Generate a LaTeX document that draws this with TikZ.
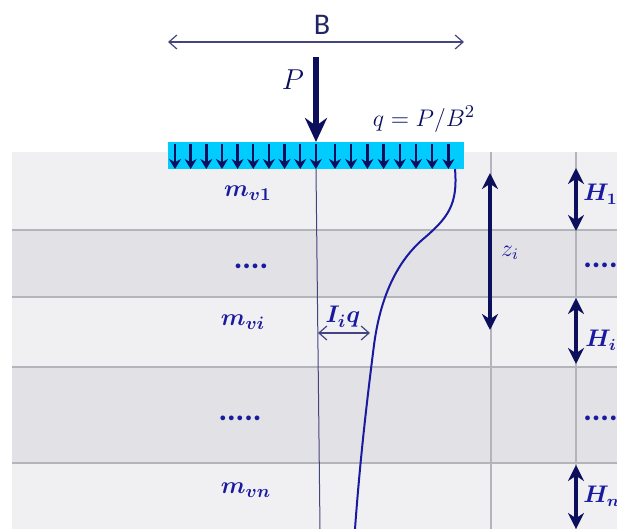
\documentclass[tikz,border=0pt]{standalone}
\usepackage{amsmath,bm}
\usepackage{fontspec}
\setmainfont{Carlito}
\usetikzlibrary{arrows.meta,positioning}
\definecolor{soilA}{HTML}{F0F0F3}
\definecolor{soilB}{HTML}{E2E1E6}
\definecolor{gridgray}{HTML}{B4B4BC}
\definecolor{footcyan}{HTML}{00CCFF}
\definecolor{navy}{HTML}{0B0F5C}
\definecolor{labblue}{HTML}{1A1AA0}
\definecolor{dimline}{HTML}{44447E}
\newcommand{\mlab}[1]{\boldsymbol{m_{#1}}}

\begin{document}
\begin{tikzpicture}[x=0.5pt,y=-0.5pt,>=Stealth,font=\fontsize{12}{14}\selectfont,
  layer/.style={draw=gridgray,line width=0.8pt},
  thick arrow/.style={navy,line width=2pt,{Stealth[length=8pt,width=8pt]}-{Stealth[length=8pt,width=8pt]}},
  dim arrow/.style={dimline,line width=0.6pt,{Straight Barb[length=4pt,width=7pt]}-{Straight Barb[length=4pt,width=7pt]}},
  lab/.style={text=labblue,inner sep=1pt,font=\fontsize{13}{15}\selectfont},
  hlab/.style={lab,anchor=west,font=\fontsize{12}{14}\selectfont},
  dots/.style={text=labblue,inner sep=1pt,font=\fontsize{16}{18}\selectfont\bfseries},
  load/.style={navy,line width=1.2pt,-{Stealth[length=5pt,width=6pt]}}]
\useasboundingbox (0,0) rectangle (617,529);
% soil layers
\fill[soilA] (12,152) rectangle (617,529);
\fill[soilB] (12,230) rectangle (617,297);
\fill[soilB] (12,367) rectangle (617,463);
\foreach \yy in {230,297,367,463}
  \draw[layer] (12,\yy) -- (617,\yy);
\draw[gridgray,line width=0.6pt] (491,152) -- (491,529);
\draw[gridgray,line width=0.6pt] (576,152) -- (576,529);
% footing and load
\fill[footcyan] (168,142) rectangle (464,169);
\foreach \i in {0,...,9}
  \draw[load] ({175+\i*15.65},144) -- ({175+\i*15.65},169);
\foreach \i in {0,...,7}
  \draw[load] ({335+\i*16.2},144) -- ({335+\i*16.2},169);
\coordinate (Btl) at (168,42);
\coordinate (Btr) at (464,42);
\draw[dim arrow] (Btl) -- (Btr);
\node[text=navy!80!gray] (B) at (322,25) {\fontsize{15}{17}\selectfont B};
\coordinate (Ptop) at (316,57);
\coordinate (Pbot) at (316,142);
\draw[navy,line width=3pt,-{Stealth[length=12pt,width=11pt]}] (Ptop) -- (Pbot);
\node[text=navy,font=\fontsize{14}{16}\selectfont] (P) at (293,80) {$P$};
\node[text=navy,font=\fontsize{13}{15}\selectfont] (q) at (424,119) {$q=P/B^2$};
% centre line and stress curve
\coordinate (ctop) at (316,169);
\coordinate (cbot) at (320,529);
\draw[dimline,line width=0.5pt] (ctop) -- (cbot);
\draw[labblue,line width=1pt] (455,169) .. controls (458,205) and (448,218) .. (422,240)
  .. controls (395,264) and (380,300) .. (374,345)
  .. controls (367,400) and (360,460) .. (355,529);
\coordinate (Ia) at (318,333);
\coordinate (Ib) at (370,333);
\draw[dim arrow] (Ia) -- (Ib);
\node[lab] (Iq) at (343,317) {$\bm{I_i q}$};
% layer labels
\node[lab] (m1) at (248,193) {$\mlab{v1}$};
\node[dots] (d1) at (251,266) {....};
\node[dots] (d2) at (240,418) {.....};
\node[lab] (mi) at (243,322) {$\mlab{vi}$};
\node[lab] (mn) at (246,490) {$\mlab{vn}$};
% depth and thickness
\coordinate (zt) at (490,173);
\coordinate (zb) at (490,330);
\draw[thick arrow] (zt) -- (zb);
\node[lab,font=\fontsize{12}{14}\selectfont] (z) at (510,253) {$z_i$};
\coordinate (h1t) at (576,168);
\coordinate (h1b) at (576,231);
\draw[thick arrow] (h1t) -- (h1b);
\node[hlab] (H1) at (581,194) {$\bm{H_1}$};
\node[dots,anchor=west] (d3) at (581,265) {....};
\coordinate (hit) at (576,298);
\coordinate (hib) at (576,364);
\draw[thick arrow] (hit) -- (hib);
\node[hlab] (Hi) at (583,340) {$\bm{H_i}$};
\node[dots,anchor=west] (d4) at (581,418) {....};
\coordinate (hnt) at (576,465);
\coordinate (hnb) at (576,529);
\draw[thick arrow] (hnt) -- (hnb);
\node[hlab] (Hn) at (581,496) {$\bm{H_n}$};
\end{tikzpicture}
\end{document}
